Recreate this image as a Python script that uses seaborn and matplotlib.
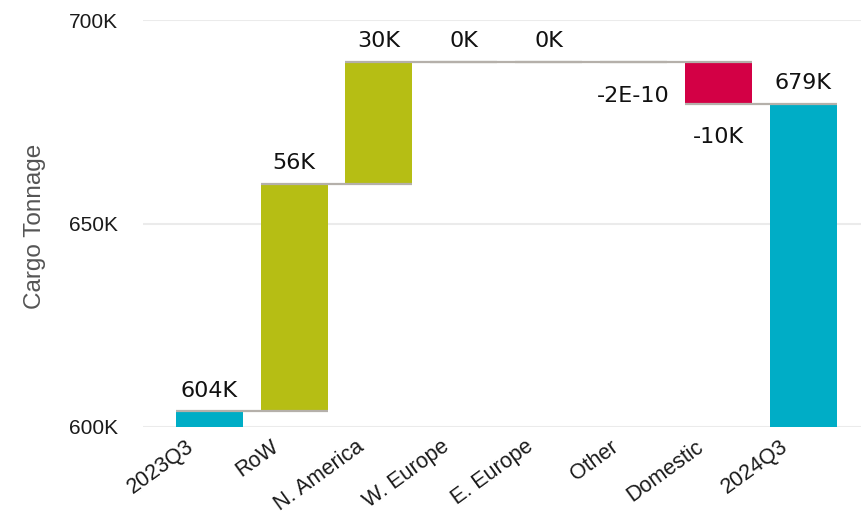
import numpy as np
import pandas as pd
import matplotlib
matplotlib.use("Agg")
import matplotlib.pyplot as plt
import matplotlib.transforms as mtransforms
import seaborn as sns

# ---- data ----
categories = ["2023Q3", "RoW", "N. America", "W. Europe", "E. Europe", "Other", "Domestic", "2024Q3"]
values = [603900, 55800, 30000, 0.0, 0.0, -2e-10, -10300, 679400]
kinds = ["total", "delta", "delta", "delta", "delta", "delta", "delta", "total"]
y_ticks = [600000, 650000, 700000]
y_tick_labels = ["600K", "650K", "700K"]

# ---- styling ----
TEAL = "#00adc6"
OLIVE = "#b6be14"
RED = "#d30045"
CONNECTOR = "#b5b0aa"
GRID = "#ebebeb"
W = 0.79

sns.set_theme(style="white")
plt.rcParams["font.family"] = ["Liberation Sans", "DejaVu Sans"]

# waterfall geometry computed from the values
bottoms, heights, ends = [], [], []
running = 0.0
for v, k in zip(values, kinds):
    if k == "total":
        bottoms.append(0.0)
        heights.append(v)
        running = v
    else:
        bottoms.append(running)
        heights.append(v)
        running = running + v
    ends.append(running)

df = pd.DataFrame({"category": categories, "height": heights, "bottom": bottoms,
                   "kind": kinds, "value": values})
df["group"] = np.where(df["kind"] == "total", "total",
                       np.where(df["value"] >= 0, "up", "down"))

fig = plt.figure(figsize=(8.61, 5.17), dpi=100)
ax = fig.add_axes([143 / 861, 1 - 427 / 517, 1 - 143 / 861, (427 - 20) / 517])

for grp, col in [("total", TEAL), ("up", OLIVE), ("down", RED)]:
    sub = df[df["group"] == grp]
    sns.barplot(data=sub, x="category", y="height", order=categories,
                bottom=sub["bottom"].to_numpy(), color=col, width=W,
                saturation=1, ax=ax, zorder=2, linewidth=0)

ax.set_ylim(600000, 700000)
ax.set_xlim(-0.78, len(categories) - 1 + 0.68)

# gridlines
for t in y_ticks:
    ax.axhline(t, color=GRID, lw=1.5, zorder=0)

# connector lines
for i in range(len(categories) - 1):
    ax.plot([i - W / 2, i + 1 + W / 2], [ends[i], ends[i]], color=CONNECTOR,
            lw=1.6, zorder=3, solid_capstyle="butt")

# data labels
for i, (v, k) in enumerate(zip(values, kinds)):
    if v != 0 and abs(v) < 1:
        txt = f"{v:.0E}"
    else:
        txt = f"{v / 1000:.0f}K"
    lo = min(bottoms[i], bottoms[i] + heights[i]) if k == "delta" else 600000
    hi = max(bottoms[i], bottoms[i] + heights[i])
    if v >= 0:
        ax.annotate(txt, (i, hi), xytext=(0, 10.5), textcoords="offset points",
                    ha="center", va="baseline", fontsize=16, family="DejaVu Sans",
                    color="#111111", zorder=5)
    else:
        ax.annotate(txt, (i, lo), xytext=(0, -28.5), textcoords="offset points",
                    ha="center", va="baseline", fontsize=16, family="DejaVu Sans",
                    color="#111111", zorder=5)

# axes styling
for s in ax.spines.values():
    s.set_visible(False)
ax.set_yticks(y_ticks)
ax.set_yticklabels(y_tick_labels, fontsize=15, color="#1a1a1a")
ax.tick_params(axis="y", length=0, pad=18)
ax.tick_params(axis="x", length=0, pad=16)
ax.set_xticks(range(len(categories)))
ax.set_xticklabels(categories, rotation=36, ha="right", va="baseline",
                   rotation_mode="anchor", fontsize=15.5, color="#1a1a1a")
offset = mtransforms.ScaledTranslation(-14 / 100, 0, fig.dpi_scale_trans)
for lab in ax.get_xticklabels():
    lab.set_transform(lab.get_transform() + offset)

ax.set_xlabel("")
ax.set_ylabel("Cargo Tonnage", fontsize=17.5, color="#555555")
ax.yaxis.set_label_coords((46 - 143) / 718, (427 - 226) / 407)

fig.savefig("out.png", dpi=100)
